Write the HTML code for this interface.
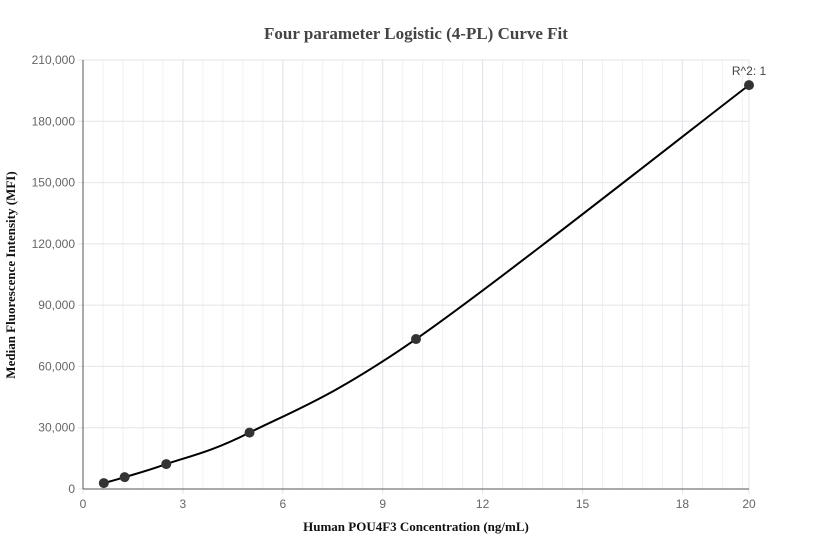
<!DOCTYPE html>
<html><head><meta charset="utf-8"><style>
body{margin:0;background:#fff;}
svg{display:block;font-family:"Liberation Sans",sans-serif;}
</style></head><body>
<svg id="chart" width="832" height="560">
<text x="416" y="39" text-anchor="middle" font-family="Liberation Serif" font-weight="bold" font-size="17" fill="#444">Four parameter Logistic (4-PL) Curve Fit</text>
<g id="grid"></g><g id="axes"></g><g id="series"></g>
<text x="416" y="531" text-anchor="middle" font-family="Liberation Serif" font-weight="bold" font-size="13" fill="#111">Human POU4F3 Concentration (ng/mL)</text>
<text transform="translate(15,275) rotate(-90)" text-anchor="middle" font-family="Liberation Serif" font-weight="bold" font-size="13" fill="#111">Median Fluorescence Intensity (MFI)</text>
</svg>
<script>
const xTicks=[0,3,6,9,12,15,18,20];
const yTicks=[0,30000,60000,90000,120000,150000,180000,210000];
const conc=[0.625,1.25,2.5,5,10,20];
const mfi=[2900,5800,12200,27600,73400,197700];
const r2Label="R^2: 1";
const NS="http://www.w3.org/2000/svg";
const X0=83,X1=749,Y0=489,Y1=60;
const sx=v=>X0+(v/20)*(X1-X0);
const sy=v=>Y0-(v/210000)*(Y0-Y1);
function mk(p,t,a){const e=document.createElementNS(NS,t);for(const k in a)e.setAttribute(k,a[k]);p.appendChild(e);return e;}
const grid=document.getElementById('grid'),axes=document.getElementById('axes'),ser=document.getElementById('series');
for(let v=0.6;v<20;v+=0.6){const l=mk(grid,'line',{x1:sx(v),x2:sx(v),y1:Y1,y2:Y0,stroke:'#f0f1f3'});

}
xTicks.forEach(t=>{const l=mk(grid,'line',{x1:sx(t),x2:sx(t),y1:Y1,y2:Y0+5,stroke:'#e2e4e8'});


const tx=mk(axes,'text',{x:sx(t),y:Y0+19,'text-anchor':'middle','font-size':12,fill:'#666'});tx.textContent=t;

});
yTicks.forEach(t=>{const l=mk(grid,'line',{x1:X0-5,x2:X1,y1:sy(t),y2:sy(t),stroke:'#e2e4e8'});


const tx=mk(axes,'text',{x:X0-8,y:sy(t)+4,'text-anchor':'end','font-size':12,fill:'#666'});tx.textContent=t.toLocaleString('en-US');

});
const ya=mk(axes,'line',{x1:X0,x2:X0,y1:Y1,y2:Y0,stroke:'#555'});


const xa=mk(axes,'line',{x1:X0,x2:X1,y1:Y0,y2:Y0,stroke:'#555'});


const P=conc.map((c,i)=>[sx(c),sy(mfi[i])]);
let d='M'+P[0][0]+','+P[0][1];
for(let i=0;i<P.length-1;i++){const p0=P[i-1]||P[i],p1=P[i],p2=P[i+1],p3=P[i+2]||P[i+1];
d+=` C${p1[0]+(p2[0]-p0[0])/6},${p1[1]+(p2[1]-p0[1])/6} ${p2[0]-(p3[0]-p1[0])/6},${p2[1]-(p3[1]-p1[1])/6} ${p2[0]},${p2[1]}`;}
const cv=mk(ser,'path',{d:d,fill:'none',stroke:'#000','stroke-width':2});


P.forEach(p=>{const c=mk(ser,'circle',{cx:p[0],cy:p[1],r:5,fill:'#333'});

});
const last=P[P.length-1];
const r=mk(ser,'text',{x:last[0],y:last[1]-10,'text-anchor':'middle','font-size':12,fill:'#444'});r.textContent=r2Label;


</script>
</body></html>
